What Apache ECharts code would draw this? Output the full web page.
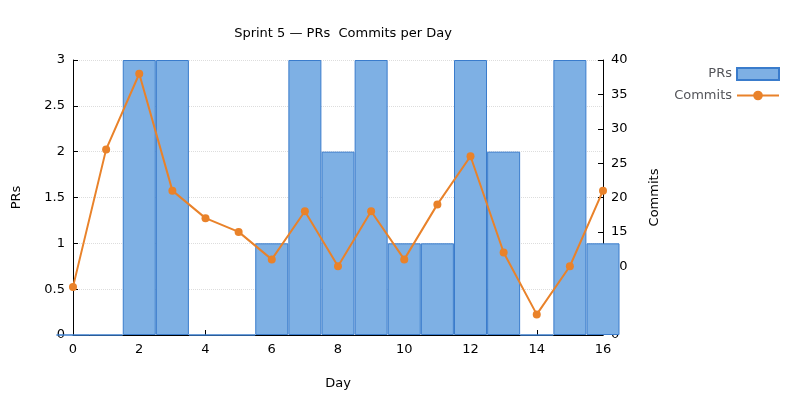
<!DOCTYPE html>
<html><head><meta charset="utf-8">
<script src="https://cdn.jsdelivr.net/npm/echarts@6/dist/echarts.min.js"></script>
<style>html,body{margin:0;padding:0;background:#fff}#c{width:800px;height:400px}</style>
</head><body><div id="c"></div>
<script>
const days = [0,1,2,3,4,5,6,7,8,9,10,11,12,13,14,15,16];
const prs = [0,0,3,3,0,0,1,3,2,3,1,1,3,2,0,3,1];
const commits = [7,27,38,21,17,15,11,18,10,18,11,19,26,12,3,10,21];
const chart = echarts.init(document.getElementById('c'));
const f = 'DejaVu Sans, Noto Sans, sans-serif';
chart.setOption({
  animation:false,
  textStyle:{fontFamily:f,color:'#000'},
  title:{text:'Sprint 5 — PRs  Commits per Day',left:338,textAlign:'center',top:22,textStyle:{fontSize:13,fontWeight:'normal',fontFamily:f,color:'#000'}},
  legend:{orient:'vertical',right:15,top:62,align:'right',itemWidth:42,itemHeight:12,itemGap:8,textStyle:{fontSize:13,fontFamily:f},
    data:[{name:'PRs',icon:'rect'},{name:'Commits'}]},
  grid:{left:73,right:197,top:60,bottom:65},
  xAxis:{type:'value',min:0,max:16,interval:2,name:'Day',nameLocation:'middle',nameGap:42,nameTextStyle:{fontSize:13,fontFamily:f},
    axisLine:{lineStyle:{color:'#000'}},axisTick:{inside:true,lineStyle:{color:'#000'}},axisLabel:{fontSize:13,color:'#000',fontFamily:f},splitLine:{show:false}},
  yAxis:[{type:'value',min:0,max:3,interval:0.5,name:'PRs',nameLocation:'middle',nameGap:50,nameTextStyle:{fontSize:13,fontFamily:f},
    axisLine:{show:true,lineStyle:{color:'#000'}},axisTick:{show:true,inside:true,lineStyle:{color:'#000'}},axisLabel:{fontSize:13,color:'#000',fontFamily:f},
    splitLine:{lineStyle:{type:'dotted',color:'#ddd'}}},
    {type:'value',min:0,max:40,interval:5,name:'Commits',nameLocation:'middle',nameGap:45,nameTextStyle:{fontSize:13,fontFamily:f},
    axisLine:{show:true,lineStyle:{color:'#000'}},axisTick:{show:true,inside:true,lineStyle:{color:'#000'}},axisLabel:{fontSize:13,color:'#000',fontFamily:f},splitLine:{show:false}}],
  series:[
    {name:'PRs',type:'bar',yAxisIndex:0,barWidth:33,data:days.map((d,i)=>[d,prs[i]]),
      itemStyle:{color:'#7eb0e4',borderColor:'#3a7ccc',borderWidth:1}},
    {name:'Commits',type:'line',yAxisIndex:1,data:days.map((d,i)=>[d,commits[i]]),
      symbol:'circle',symbolSize:8,lineStyle:{color:'#e9822a',width:2},itemStyle:{color:'#e9822a'}}
  ]
});
</script></body></html>
